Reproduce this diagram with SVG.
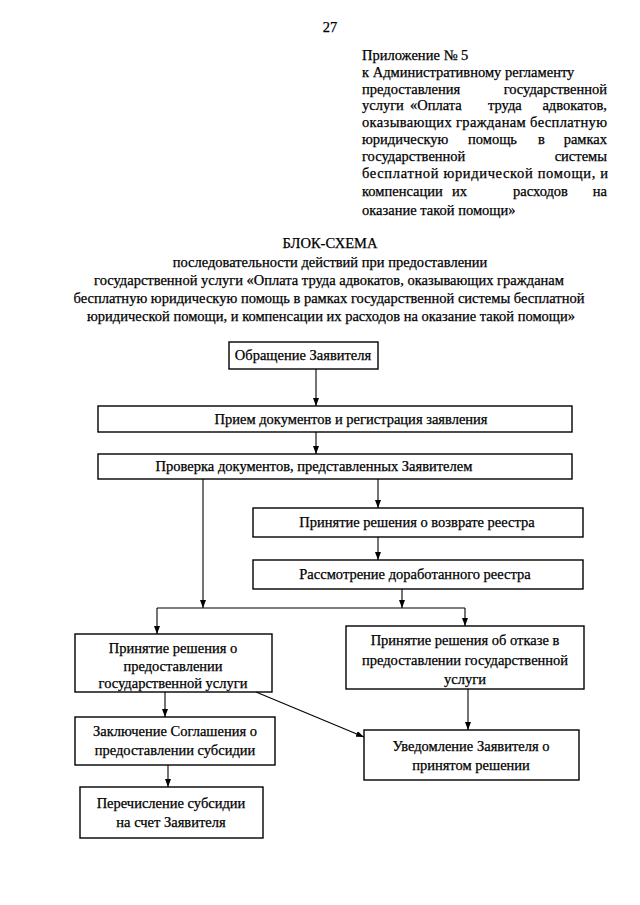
<svg xmlns="http://www.w3.org/2000/svg" width="640" height="905" viewBox="0 0 640 905">
<defs>
<style>
text{font-family:"Liberation Serif","Times New Roman",serif;font-size:14.5px;fill:#000;stroke:#000;stroke-width:0.25}
.c{text-anchor:middle}
.e{text-anchor:end}
.box{fill:#fff;stroke:#000;stroke-width:1.4}
.ln{fill:none;stroke:#000;stroke-width:1.1}
</style>
<marker id="ah" markerUnits="userSpaceOnUse" markerWidth="8" markerHeight="6" refX="8" refY="3" orient="auto">
<path d="M0,0 L8,3 L0,6 z" fill="#000"/>
</marker>
</defs>
<rect width="640" height="905" fill="#fff"/>
<text class="c" x="330" y="32">27</text>
<g id="header">
<text x="362" y="60">Приложение № 5</text>
<text x="362" y="77">к Административному регламенту</text>
<text x="362" y="94">предоставления</text><text class="e" x="607" y="94">государственной</text>
<text x="362" y="110">услуги</text><text x="410" y="110">«Оплата</text><text x="488" y="110">труда</text><text class="e" x="607" y="110">адвокатов,</text>
<text x="362" y="127" textLength="245" lengthAdjust="spacing">оказывающих гражданам бесплатную</text>
<text x="362" y="144">юридическую</text><text x="468" y="144">помощь</text><text x="538" y="144">в</text><text class="e" x="607" y="144">рамках</text>
<text x="362" y="161">государственной</text><text class="e" x="607" y="161">системы</text>
<text x="362" y="178" textLength="246" lengthAdjust="spacing">бесплатной юридической помощи,  и</text>
<text x="362" y="196">компенсации</text><text x="452" y="196">их</text><text x="513" y="196">расходов</text><text class="e" x="607" y="196">на</text>
<text x="362" y="215">оказание такой помощи»</text>
</g>
<g id="title">
<text class="c" x="330" y="248">БЛОК-СХЕМА</text>
<text class="c" x="330" y="267">последовательности действий при предоставлении</text>
<text class="c" x="329" y="285">государственной услуги «Оплата труда адвокатов, оказывающих гражданам</text>
<text class="c" x="329" y="303">бесплатную юридическую помощь в рамках государственной системы бесплатной</text>
<text class="c" x="331" y="321">юридической помощи,  и компенсации их расходов на оказание такой помощи»</text>
</g>
<g id="connectors">
<line class="ln" x1="316" y1="369" x2="316" y2="406" marker-end="url(#ah)"/>
<line class="ln" x1="316" y1="432" x2="316" y2="454" marker-end="url(#ah)"/>
<line class="ln" x1="203" y1="479" x2="203" y2="608" marker-end="url(#ah)"/>
<line class="ln" x1="378" y1="479" x2="378" y2="508" marker-end="url(#ah)"/>
<line class="ln" x1="378" y1="537" x2="378" y2="560" marker-end="url(#ah)"/>
<line class="ln" x1="402" y1="589" x2="402" y2="608" marker-end="url(#ah)"/>
<line class="ln" x1="157" y1="608" x2="465" y2="608"/>
<line class="ln" x1="157" y1="608" x2="157" y2="634" marker-end="url(#ah)"/>
<line class="ln" x1="465" y1="608" x2="465" y2="626" marker-end="url(#ah)"/>
<line class="ln" x1="165" y1="692" x2="165" y2="717" marker-end="url(#ah)"/>
<line class="ln" x1="256" y1="692" x2="364" y2="737" marker-end="url(#ah)"/>
<line class="ln" x1="468" y1="689" x2="468" y2="730" marker-end="url(#ah)"/>
<line class="ln" x1="168" y1="765" x2="168" y2="787" marker-end="url(#ah)"/>
</g>
<g id="n1"><rect class="box" x="229" y="342" width="149" height="27"/><text class="c" x="303" y="360">Обращение Заявителя</text></g>
<g id="n2"><rect class="box" x="98" y="406" width="474" height="26"/><text class="c" x="351" y="424">Прием документов и регистрация заявления</text></g>
<g id="n3"><rect class="box" x="98" y="454" width="474" height="25"/><text class="c" x="314" y="471">Проверка документов, представленных Заявителем</text></g>
<g id="n4"><rect class="box" x="253" y="508" width="330" height="29"/><text class="c" x="417" y="527">Принятие решения о возврате реестра</text></g>
<g id="n5"><rect class="box" x="253" y="560" width="330" height="29"/><text class="c" x="415" y="579">Рассмотрение доработанного реестра</text></g>
<g id="n6"><rect class="box" x="75" y="634" width="197" height="58"/><text class="c" x="173" y="653">Принятие решения о</text><text class="c" x="173" y="671">предоставлении</text><text class="c" x="173" y="688">государственной услуги</text></g>
<g id="n7"><rect class="box" x="346" y="626" width="238" height="63"/><text class="c" x="465" y="645">Принятие решения об отказе в</text><text class="c" x="465" y="665">предоставлении государственной</text><text class="c" x="465" y="684">услуги</text></g>
<g id="n8"><rect class="box" x="75" y="717" width="200" height="48"/><text class="c" x="175" y="736">Заключение Соглашения о</text><text class="c" x="175" y="755">предоставлении субсидии</text></g>
<g id="n9"><rect class="box" x="364" y="730" width="215" height="50"/><text class="c" x="471" y="751">Уведомление Заявителя о</text><text class="c" x="471" y="770">принятом решении</text></g>
<g id="n10"><rect class="box" x="80" y="787" width="183" height="51"/><text class="c" x="171" y="808">Перечисление субсидии</text><text class="c" x="171" y="827">на счет Заявителя</text></g>
</svg>
